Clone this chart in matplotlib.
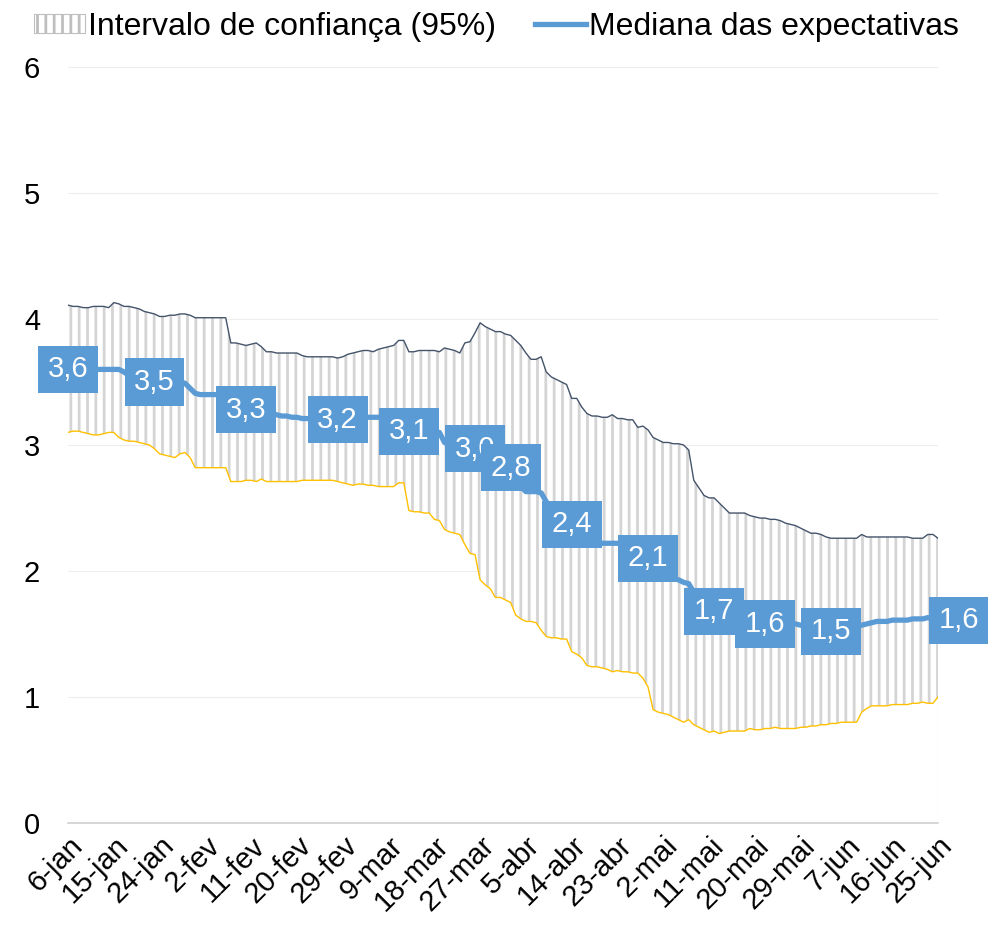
import numpy as np
import pandas as pd
import matplotlib
matplotlib.use("Agg")
import matplotlib.pyplot as plt
from matplotlib.patches import Patch
from matplotlib.lines import Line2D
from matplotlib.transforms import ScaledTranslation

plt.rcParams["font.family"] = ["Liberation Sans", "DejaVu Sans"]
plt.rcParams["hatch.linewidth"] = 2.0

# Daily observation dates (2020)
start_date = "2020-01-06"
end_date = "2020-06-25"
month_abbr = ["jan", "fev", "mar", "abr", "mai", "jun",
              "jul", "ago", "set", "out", "nov", "dez"]

# Upper bound of the 95% confidence interval
upper = [
    4.11, 4.10, 4.10, 4.09, 4.09, 4.10, 4.10, 4.10, 4.09, 4.13,
    4.12, 4.10, 4.10, 4.09, 4.08, 4.06, 4.05, 4.04, 4.02, 4.02,
    4.03, 4.03, 4.04, 4.04, 4.03, 4.01, 4.01, 4.01, 4.01, 4.01,
    4.01, 4.01, 3.81, 3.81, 3.80, 3.79, 3.80, 3.81, 3.78, 3.74,
    3.74, 3.73, 3.73, 3.73, 3.73, 3.73, 3.71, 3.70, 3.70, 3.70,
    3.70, 3.70, 3.70, 3.69, 3.70, 3.72, 3.73, 3.74, 3.75, 3.75,
    3.74, 3.76, 3.77, 3.78, 3.79, 3.83, 3.83, 3.74, 3.74, 3.75,
    3.75, 3.75, 3.75, 3.74, 3.77, 3.76, 3.75, 3.73, 3.81, 3.82,
    3.89, 3.97, 3.94, 3.92, 3.90, 3.90, 3.88, 3.87, 3.83, 3.79,
    3.73, 3.68, 3.68, 3.70, 3.58, 3.54, 3.52, 3.50, 3.48, 3.37,
    3.37, 3.30, 3.25, 3.23, 3.23, 3.22, 3.22, 3.24, 3.21, 3.21,
    3.20, 3.20, 3.14, 3.15, 3.12, 3.06, 3.04, 3.02, 3.02, 3.01,
    3.01, 3.00, 2.96, 2.72, 2.66, 2.60, 2.58, 2.58, 2.54, 2.50,
    2.46, 2.46, 2.46, 2.46, 2.44, 2.43, 2.42, 2.42, 2.41, 2.41,
    2.40, 2.38, 2.37, 2.36, 2.34, 2.32, 2.30, 2.30, 2.29, 2.27,
    2.26, 2.26, 2.26, 2.26, 2.26, 2.26, 2.29, 2.27, 2.27, 2.27,
    2.27, 2.27, 2.27, 2.27, 2.27, 2.27, 2.26, 2.26, 2.26, 2.29,
    2.29, 2.26,
]

# Lower bound of the 95% confidence interval
lower = [
    3.10, 3.11, 3.11, 3.10, 3.09, 3.08, 3.08, 3.09, 3.10, 3.10,
    3.06, 3.04, 3.03, 3.03, 3.02, 3.01, 3.00, 2.97, 2.93, 2.92,
    2.91, 2.90, 2.93, 2.94, 2.90, 2.82, 2.82, 2.82, 2.82, 2.82,
    2.82, 2.82, 2.71, 2.71, 2.71, 2.72, 2.72, 2.71, 2.73, 2.71,
    2.71, 2.71, 2.71, 2.71, 2.71, 2.71, 2.72, 2.72, 2.72, 2.72,
    2.72, 2.72, 2.72, 2.71, 2.70, 2.69, 2.68, 2.69, 2.69, 2.68,
    2.68, 2.67, 2.67, 2.67, 2.67, 2.70, 2.70, 2.48, 2.47, 2.47,
    2.46, 2.46, 2.41, 2.40, 2.33, 2.31, 2.30, 2.29, 2.21, 2.14,
    2.13, 1.93, 1.89, 1.86, 1.79, 1.79, 1.77, 1.75, 1.65, 1.62,
    1.60, 1.60, 1.59, 1.53, 1.48, 1.47, 1.47, 1.46, 1.46, 1.36,
    1.34, 1.31, 1.25, 1.24, 1.24, 1.23, 1.22, 1.20, 1.21, 1.20,
    1.20, 1.19, 1.19, 1.15, 1.08, 0.90, 0.88, 0.87, 0.86, 0.84,
    0.82, 0.80, 0.82, 0.78, 0.76, 0.74, 0.72, 0.73, 0.71, 0.72,
    0.73, 0.73, 0.73, 0.73, 0.75, 0.74, 0.74, 0.75, 0.75, 0.76,
    0.75, 0.75, 0.75, 0.75, 0.76, 0.76, 0.77, 0.77, 0.78, 0.78,
    0.79, 0.79, 0.80, 0.80, 0.80, 0.80, 0.88, 0.91, 0.93, 0.93,
    0.93, 0.93, 0.94, 0.94, 0.94, 0.94, 0.95, 0.95, 0.96, 0.95,
    0.95, 1.00,
]

# Median of expectations
median = [
    3.60, 3.60, 3.60, 3.60, 3.60, 3.60, 3.60, 3.60, 3.60, 3.60,
    3.60, 3.58, 3.55, 3.52, 3.50, 3.50, 3.50, 3.50, 3.50, 3.50,
    3.50, 3.50, 3.50, 3.49, 3.45, 3.41, 3.40, 3.40, 3.40, 3.40,
    3.40, 3.40, 3.38, 3.34, 3.30, 3.28, 3.27, 3.26, 3.26, 3.25,
    3.25, 3.24, 3.23, 3.23, 3.22, 3.22, 3.21, 3.21, 3.21, 3.21,
    3.21, 3.20, 3.20, 3.20, 3.21, 3.21, 3.22, 3.22, 3.22, 3.22,
    3.22, 3.22, 3.22, 3.21, 3.18, 3.15, 3.13, 3.11, 3.10, 3.10,
    3.10, 3.10, 3.10, 3.10, 3.02, 3.00, 2.99, 2.98, 2.97, 2.97,
    2.97, 2.93, 2.90, 2.88, 2.86, 2.84, 2.83, 2.82, 2.74, 2.67,
    2.63, 2.63, 2.63, 2.62, 2.55, 2.50, 2.45, 2.42, 2.40, 2.37,
    2.30, 2.26, 2.23, 2.22, 2.22, 2.22, 2.22, 2.22, 2.22, 2.21,
    2.19, 2.16, 2.13, 2.11, 2.10, 2.06, 2.02, 1.99, 1.96, 1.94,
    1.93, 1.91, 1.90, 1.83, 1.78, 1.73, 1.70, 1.68, 1.66, 1.64,
    1.63, 1.62, 1.61, 1.60, 1.60, 1.59, 1.59, 1.58, 1.59, 1.59,
    1.59, 1.59, 1.59, 1.58, 1.57, 1.56, 1.55, 1.54, 1.53, 1.52,
    1.52, 1.53, 1.54, 1.55, 1.56, 1.57, 1.57, 1.58, 1.59, 1.60,
    1.60, 1.60, 1.61, 1.61, 1.61, 1.61, 1.62, 1.62, 1.62, 1.63,
    1.62, 1.61,
]

# Days whose median value gets a data label
label_days = [0, 17, 35, 53, 67, 80, 87, 99, 114, 127, 137, 150, 171]

dates = pd.date_range(start_date, end_date, freq="D")
x = np.arange(len(dates))
tick_idx = x[::9]
tick_labels = [f"{dates[i].day}-{month_abbr[dates[i].month - 1]}" for i in tick_idx]

BLUE = "#5B9BD5"
UPPER_C = "#44546A"
LOWER_C = "#FFC000"
HATCH_C = "#D4D4D4"

fig = plt.figure(figsize=(9.88, 9.31), dpi=100)
ax = fig.add_axes([68 / 988, 108 / 931, 870 / 988, 756 / 931])

# Confidence band: white fill with vertical hatching
ax.fill_between(x, lower, upper, facecolor="white", edgecolor=HATCH_C,
                hatch="||", linewidth=0, zorder=2)
ax.plot(x, upper, color=UPPER_C, lw=1.0, zorder=3)
ax.plot(x, lower, color=LOWER_C, lw=1.0, zorder=3)
ax.vlines(x[-1], 0, lower[-1], color="#FFE699", lw=0.8, zorder=3)

# Median line
ax.plot(x, median, color=BLUE, lw=3.8, solid_capstyle="butt", zorder=4)

# Data labels
for i in label_days:
    txt = f"{median[i]:.1f}".replace(".", ",")
    dx = 15 if i == x[-1] else 0
    ax.annotate(txt, (x[i], median[i]), xytext=(dx, 0), textcoords="offset points",
                ha="center", va="center", color="white", fontsize=21,
                bbox=dict(boxstyle="square,pad=0.33", fc=BLUE, ec="none"),
                zorder=5, annotation_clip=False)

ax.set_xlim(x[0], x[-1])
ax.set_ylim(0, 6)
ax.set_yticks(range(0, 7))
ax.set_yticklabels([str(v) for v in range(0, 7)], fontsize=21)
ax.set_xticks(tick_idx)
ax.set_xticklabels(tick_labels, fontsize=21, rotation=45,
                   ha="right", va="top", rotation_mode="anchor")
offset = ScaledTranslation(17 / 100, -1 / 100, fig.dpi_scale_trans)
for lab in ax.get_xticklabels():
    lab.set_transform(lab.get_transform() + offset)

ax.tick_params(axis="both", length=0)
ax.tick_params(axis="y", pad=20)
ax.tick_params(axis="x", pad=6)
ax.grid(axis="y", color="#EDEDED", lw=0.8, zorder=0)
ax.set_axisbelow(True)
for side in ["top", "right", "left"]:
    ax.spines[side].set_visible(False)
ax.spines["bottom"].set_color("#D0D0D0")
ax.spines["bottom"].set_linewidth(1.2)

handles = [
    Patch(facecolor="white", edgecolor="#BFBFBF", hatch="||", linewidth=0.8),
    Line2D([0], [0], color=BLUE, lw=3.8),
]
fig.legend(handles, ["Intervalo de confiança (95%)", "Mediana das expectativas"],
           loc="upper left", bbox_to_anchor=(0.015, 1.008), ncol=2, frameon=False,
           fontsize=23, handlelength=1.6, handleheight=0.55, handletextpad=0.1,
           columnspacing=1.2, borderaxespad=0.2)

fig.savefig("out.png", dpi=100, facecolor="white")
